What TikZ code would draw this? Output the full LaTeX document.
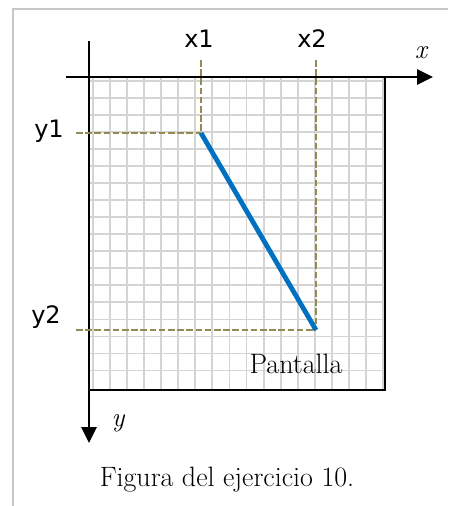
\documentclass[tikz,border=0pt]{standalone}
\usepackage{fontspec}
\newfontfamily\labfont{DejaVu Sans}
\usetikzlibrary{arrows.meta}
\definecolor{guide}{RGB}{148,138,84}
\definecolor{segblue}{RGB}{0,112,192}
\definecolor{gridgray}{RGB}{212,212,212}
\definecolor{framegray}{RGB}{200,200,200}
\tikzset{
  axisline/.style={line width=2.8pt, black},
  axisarrow/.style={axisline, -{Triangle[length=16pt,width=15pt]}},
  guideline/.style={guide, line width=2.8pt, dash pattern=on 6.5pt off 2.7pt},
  segline/.style={segblue, line width=4.8pt},
  gridline/.style={gridgray, line width=1.8pt},
  sanslbl/.style={anchor=base, inner sep=0pt, font=\labfont\fontsize{24}{28}\selectfont},
  axlbl/.style={anchor=base, inner sep=0pt, font=\fontsize{27}{32}\selectfont\itshape},
  seriflbl/.style={anchor=base, inner sep=0pt, font=\fontsize{28}{33}\selectfont}
}
\begin{document}
\begin{tikzpicture}[x=1pt,y=-1pt]
\useasboundingbox (0,0) rectangle (448,506);
\fill[white] (0,0) rectangle (448,506);
\draw[framegray, line width=2pt] (13,506) -- (13,9) -- (448,9);
% grid
\begin{scope}
  \clip (89,77) rectangle (385,390);
  \foreach \i in {0,...,17} {
    \draw[gridline] (92.9+\i*17.07,77) -- (92.9+\i*17.07,390);
    \draw[gridline] (89,80.7+\i*17.05) -- (385,80.7+\i*17.05);
  }
\end{scope}
% screen border (right and bottom)
\draw[axisline] (89,390) -- (385,390) -- (385,77);
% axes
\draw[axisarrow] (66,77) -- (433,77);
\draw[axisarrow] (89,41) -- (89,443);
% coordinates
\coordinate (p1) at (201,133);
\coordinate (p2) at (316,330);
\coordinate (tx1) at (201,60);
\coordinate (tx2) at (316,60);
\coordinate (ly1) at (76,133);
\coordinate (ly2) at (76,330);
% guides
\draw[guideline] (tx1) -- (p1);
\draw[guideline] (ly1) -- (p1);
\draw[guideline] (tx2) -- (p2);
\draw[guideline] (ly2) -- (p2);
% segment
\draw[segline] (p1) -- (p2);
% labels
\node[sanslbl] (lx1) at (199,47) {x1};
\node[sanslbl] (lx2) at (312,47) {x2};
\node[sanslbl] (ly1t) at (49,137.3) {y1};
\node[sanslbl] (ly2t) at (46,323) {y2};
\node[axlbl] (xax) at (421,58.3) {x};
\node[axlbl] (yax) at (118,426.6) {y};
\node[seriflbl] (pant) at (296,373.3) {Pantalla};
\node[seriflbl] (cap) at (227,486.7) {Figura del ejercicio 10.};
\end{tikzpicture}
\end{document}
